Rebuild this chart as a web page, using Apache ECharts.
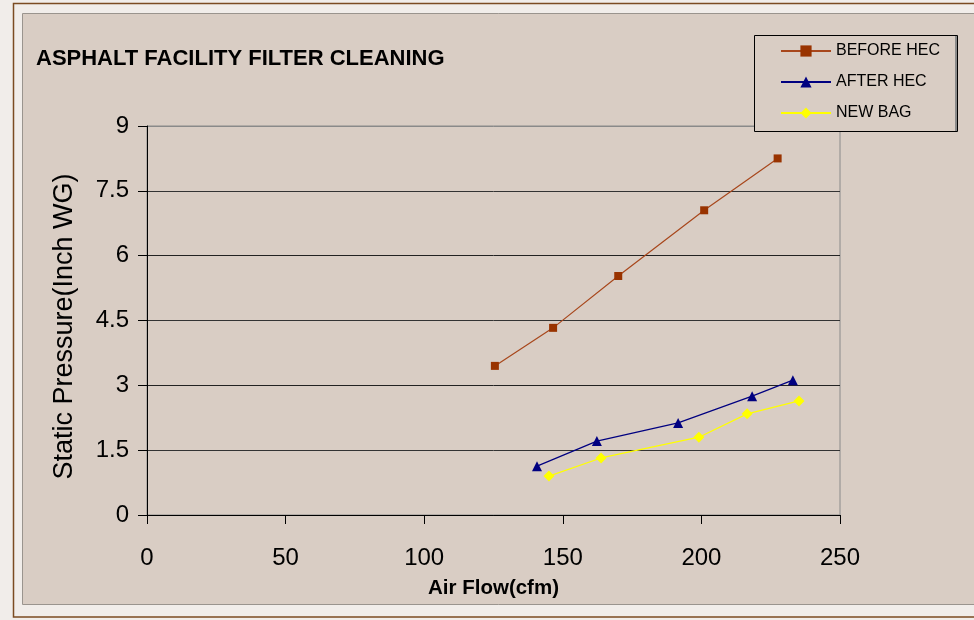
<!DOCTYPE html>
<html>
<head>
<meta charset="utf-8">
<script src="https://cdn.jsdelivr.net/npm/echarts@6/dist/echarts.min.js"></script>
<style>
html,body{margin:0;padding:0;background:#f1edea;}
#chart{width:974px;height:620px;}
</style>
</head>
<body>
<div id="chart"></div>
<script>
// Data
var seriesNames = ['BEFORE HEC', 'AFTER HEC', 'NEW BAG'];
var beforeX = [125.5, 146.5, 170, 201, 227.5];
var beforeY = [3.45, 4.33, 5.53, 7.05, 8.25];
var afterX = [140.7, 162.3, 191.6, 218.3, 233];
var afterY = [1.13, 1.71, 2.13, 2.75, 3.12];
var newX = [145, 163.8, 199.1, 216.5, 235.2];
var newY = [0.9, 1.32, 1.8, 2.34, 2.64];
var xTicks = [0, 50, 100, 150, 200, 250];
var yTicks = [0, 1.5, 3, 4.5, 6, 7.5, 9];

function pairs(xs, ys) { return xs.map(function (x, i) { return [x, ys[i]]; }); }

var chart = echarts.init(document.getElementById('chart'), null, {renderer: 'canvas'});
var FONT = 'Liberation Sans, Arial, sans-serif';
chart.setOption({
  backgroundColor: '#f1edea',
  animation: false,
  graphic: [
    {type: 'rect', z: -10, shape: {x: 13.5, y: 3.5, width: 970, height: 613.5},
     style: {fill: '#f1edea', stroke: '#7b4b22', lineWidth: 1.5}},
    {type: 'rect', z: -9, shape: {x: 22.5, y: 13.5, width: 960, height: 591},
     style: {fill: '#d9cdc4', stroke: '#9a948e', lineWidth: 1}},
    {type: 'rect', z: 50, shape: {x: 754.5, y: 35.5, width: 203, height: 96},
     style: {fill: '#d9cdc4', stroke: '#000', lineWidth: 1}},
    {type: 'line', z: 50, shape: {x1: 956, y1: 36, x2: 956, y2: 131},
     style: {stroke: '#8a8a8a', lineWidth: 2}}
  ],
  title: {
    text: 'ASPHALT FACILITY FILTER CLEANING',
    left: 31, top: 43,
    textStyle: {fontFamily: FONT, fontSize: 22, fontWeight: 'bold', color: '#000'}
  },
  legend: {
    data: seriesNames,
    orient: 'vertical',
    left: 775, top: 38,
    z: 60,
    itemWidth: 50, itemHeight: 14, itemGap: 15,
    textStyle: {fontFamily: FONT, fontSize: 16, color: '#000'}
  },
  grid: {
    left: 147, right: 134, top: 126, bottom: 105,
    show: true, borderColor: '#8a8a8a', borderWidth: 1, backgroundColor: 'transparent'
  },
  xAxis: {
    type: 'value', min: xTicks[0], max: xTicks[xTicks.length - 1], interval: 50,
    name: 'Air Flow(cfm)', nameLocation: 'middle', nameGap: 63,
    nameTextStyle: {fontFamily: FONT, fontSize: 20.5, fontWeight: 'bold', color: '#000'},
    axisLine: {show: true, lineStyle: {color: '#000', width: 1}},
    axisTick: {show: true, length: 9, lineStyle: {color: '#000'}},
    axisLabel: {fontFamily: FONT, fontSize: 24, color: '#000', margin: 31},
    splitLine: {show: false}
  },
  yAxis: {
    type: 'value', min: yTicks[0], max: yTicks[yTicks.length - 1], interval: 1.5,
    name: 'Static Pressure(Inch WG)', nameLocation: 'middle', nameGap: 69,
    nameTextStyle: {fontFamily: FONT, fontSize: 27, color: '#000', padding: [0, 12, 0, 0]},
    axisLine: {show: true, lineStyle: {color: '#000', width: 1}},
    axisTick: {show: true, length: 9, lineStyle: {color: '#000'}},
    axisLabel: {fontFamily: FONT, fontSize: 24, color: '#000', margin: 18},
    splitLine: {show: true, lineStyle: {color: ['#000', '#333', '#222', '#333', '#222', '#333', '#8a8a8a'], width: 1}}
  },
  series: [
    {name: seriesNames[0], type: 'line', data: pairs(beforeX, beforeY),
     symbol: 'rect', symbolSize: 8,
     itemStyle: {color: '#993300'}, lineStyle: {color: '#a8471c', width: 1.2}},
    {name: seriesNames[1], type: 'line', data: pairs(afterX, afterY),
     symbol: 'triangle', symbolSize: 10,
     itemStyle: {color: '#000080'}, lineStyle: {color: '#000080', width: 1.2}},
    {name: seriesNames[2], type: 'line', data: pairs(newX, newY),
     symbol: 'diamond', symbolSize: 11,
     itemStyle: {color: '#ffff00'}, lineStyle: {color: '#ffff00', width: 1.2}}
  ]
});
</script>
</body>
</html>
